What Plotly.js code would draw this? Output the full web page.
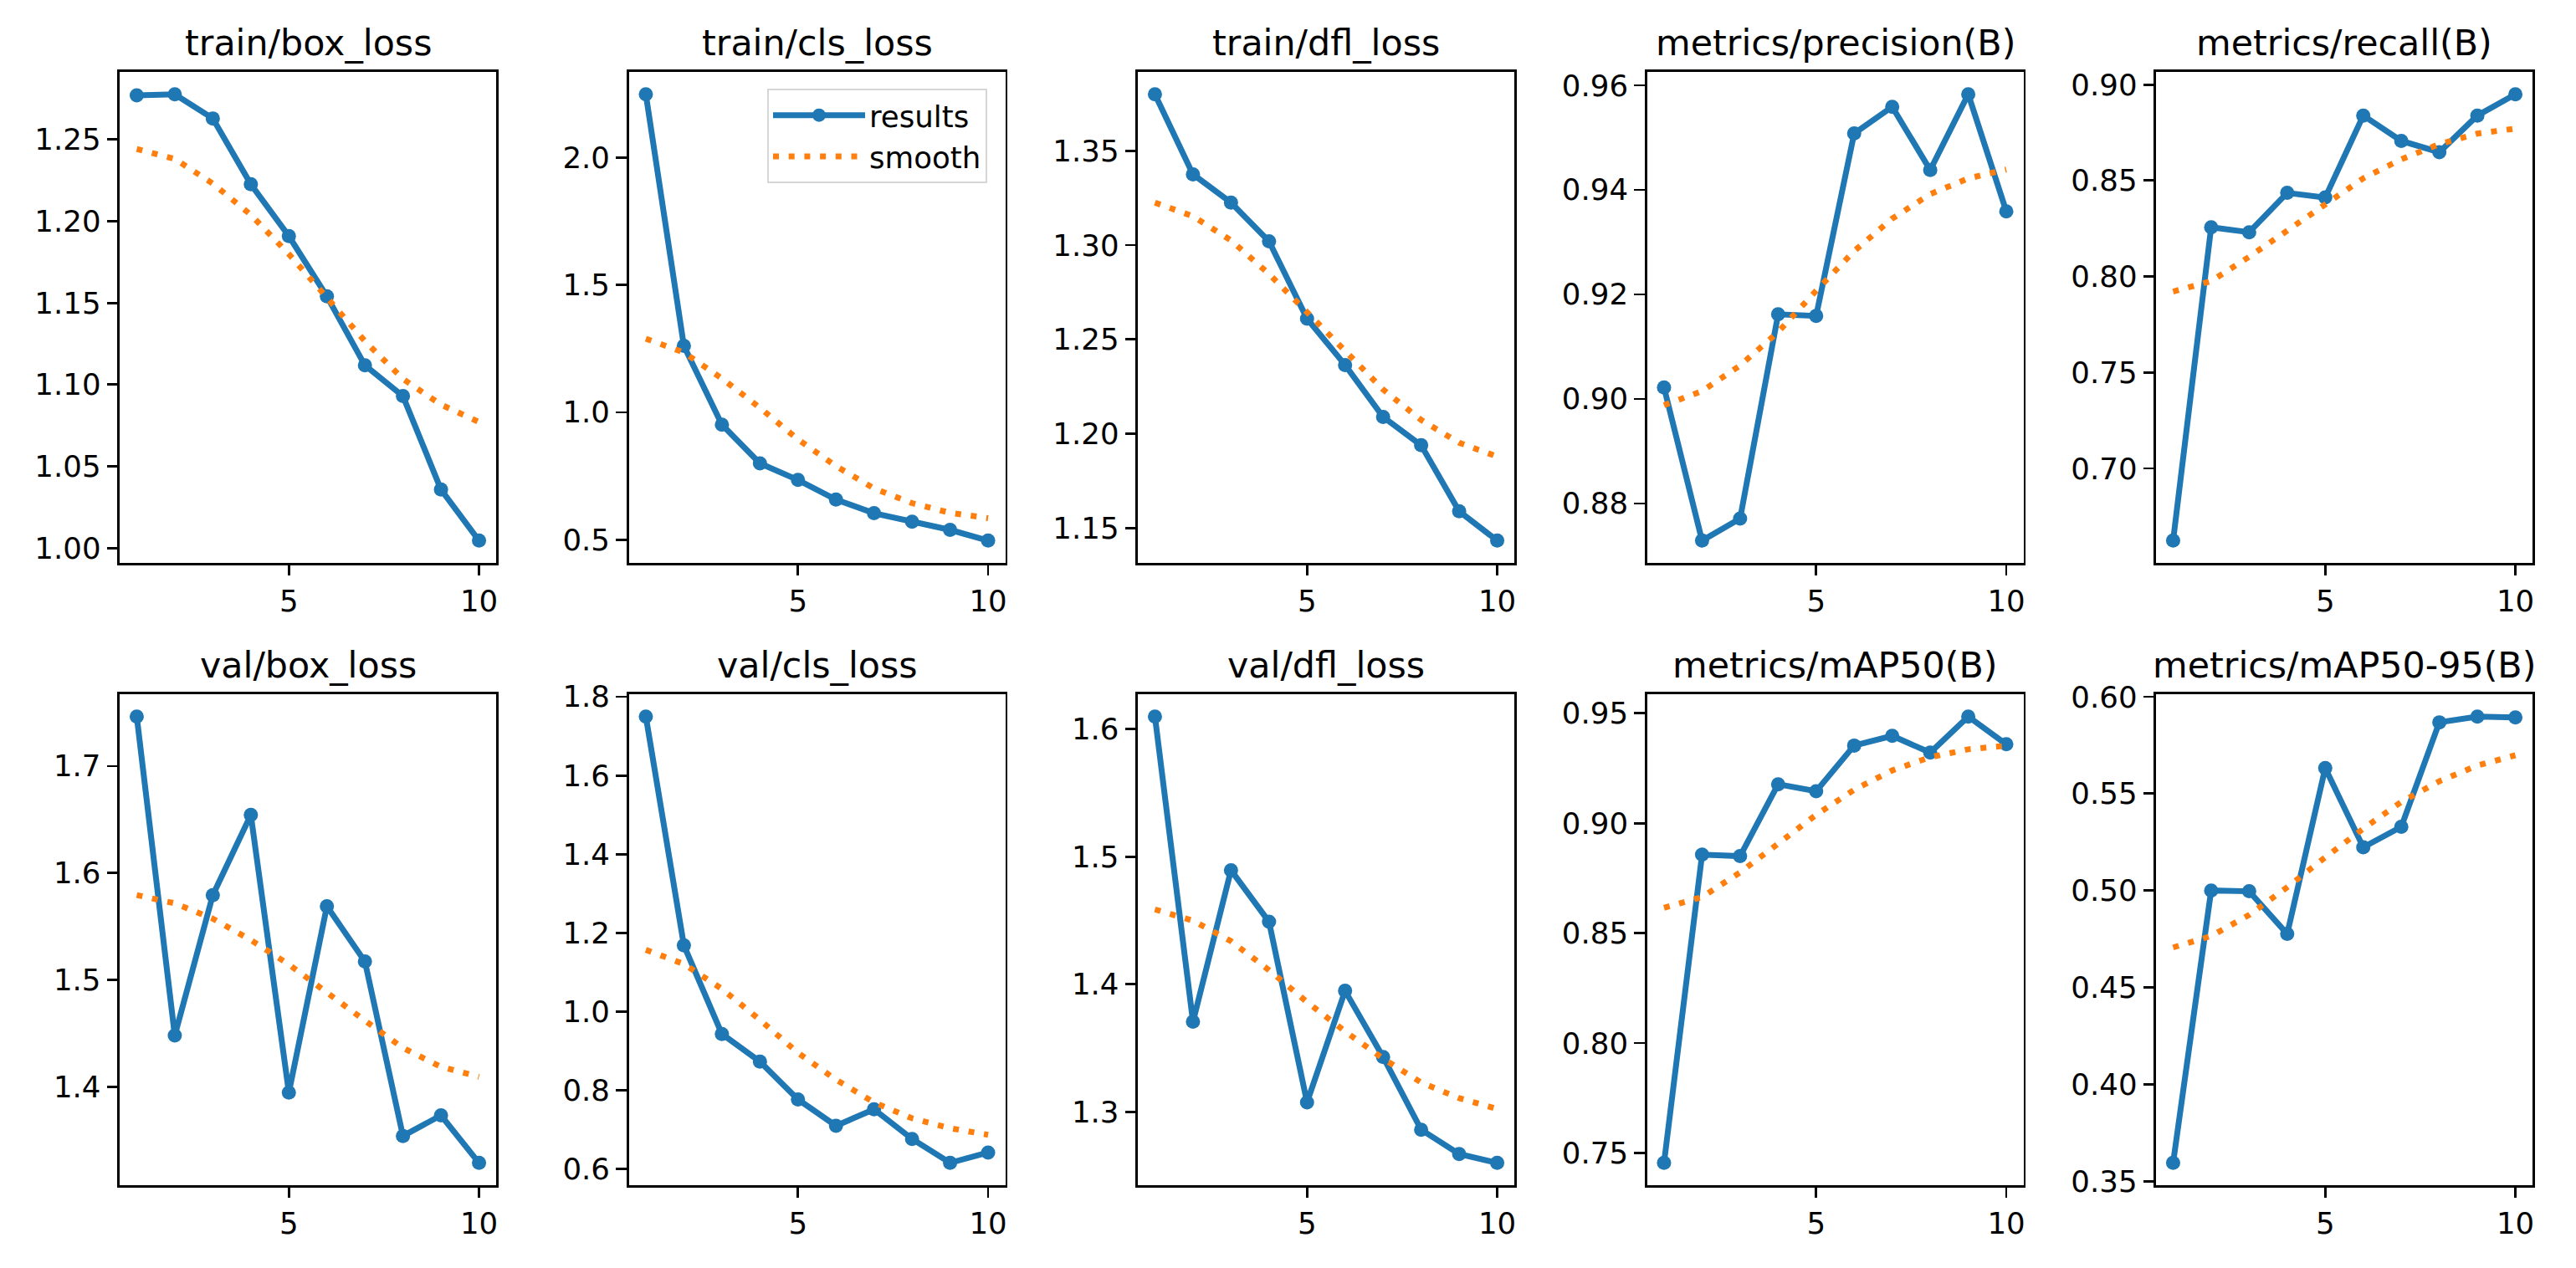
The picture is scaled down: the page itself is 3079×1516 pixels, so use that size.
<!DOCTYPE html>
<html>
<head>
<meta charset="utf-8">
<script src="https://cdn.plot.ly/plotly-3.0.1.min.js"></script>
<style>
  html, body { margin: 0; padding: 0; background: #ffffff; }
  #chart { width: 3079px; height: 1516px; }
</style>
</head>
<body>
<div id="chart"></div>
<script>
// ---------------- data ----------------
const epochs = [1, 2, 3, 4, 5, 6, 7, 8, 9, 10];

const panelTitles = [
  "train/box_loss", "train/cls_loss", "train/dfl_loss", "metrics/precision(B)", "metrics/recall(B)",
  "val/box_loss", "val/cls_loss", "val/dfl_loss", "metrics/mAP50(B)", "metrics/mAP50-95(B)"
];

const trainBoxLoss       = [1.2768, 1.2775, 1.2627, 1.2225, 1.1908, 1.1540, 1.1118, 1.0930, 1.0359, 1.0047];
const trainBoxLossSmooth = [1.2441, 1.2380, 1.2229, 1.2038, 1.1798, 1.1530, 1.1266, 1.1035, 1.0878, 1.0772];

const trainClsLoss       = [2.248, 1.261, 0.952, 0.800, 0.735, 0.658, 0.6045, 0.571, 0.539, 0.497];
const trainClsLossSmooth = [1.289, 1.235, 1.133, 1.018, 0.894, 0.789, 0.7015, 0.644, 0.606, 0.585];

const trainDflLoss       = [1.3799, 1.3375, 1.3225, 1.3020, 1.2610, 1.2365, 1.2090, 1.1940, 1.1590, 1.1435];
const trainDflLossSmooth = [1.3225, 1.3153, 1.3025, 1.2847, 1.2645, 1.2440, 1.2235, 1.2074, 1.1953, 1.1880];

const precision       = [0.9022, 0.8729, 0.8771, 0.9162, 0.9159, 0.9508, 0.9559, 0.9438, 0.9583, 0.9359];
const precisionSmooth = [0.8988, 0.9015, 0.9064, 0.9128, 0.9207, 0.9283, 0.9345, 0.9392, 0.9422, 0.9439];

const recall       = [0.6624, 0.8257, 0.8231, 0.8436, 0.8412, 0.8839, 0.8707, 0.8648, 0.8839, 0.8950];
const recallSmooth = [0.7922, 0.7976, 0.8103, 0.8239, 0.8381, 0.8512, 0.8611, 0.8690, 0.8745, 0.8771];

const valBoxLoss       = [1.7463, 1.4483, 1.5795, 1.6544, 1.3950, 1.5690, 1.5174, 1.3544, 1.3737, 1.3293];
const valBoxLossSmooth = [1.5795, 1.5718, 1.5575, 1.5375, 1.5147, 1.4876, 1.4622, 1.4367, 1.4190, 1.4097];

const valClsLoss       = [1.7496, 1.1685, 0.9433, 0.8730, 0.7770, 0.7100, 0.7520, 0.6766, 0.6158, 0.6420];
const valClsLossSmooth = [1.1570, 1.1210, 1.0577, 0.9790, 0.8955, 0.8270, 0.7696, 0.7290, 0.7040, 0.6870];

const valDflLoss       = [1.6097, 1.3706, 1.4893, 1.4489, 1.3074, 1.3948, 1.3430, 1.2860, 1.2670, 1.2600];
const valDflLossSmooth = [1.4586, 1.4498, 1.4337, 1.4110, 1.3860, 1.3630, 1.3417, 1.3230, 1.3107, 1.3023];

const mAP50       = [0.7455, 0.8857, 0.8850, 0.9177, 0.9145, 0.9353, 0.9397, 0.9321, 0.9485, 0.9359];
const mAP50Smooth = [0.8615, 0.8664, 0.8776, 0.8910, 0.9038, 0.9152, 0.9240, 0.9300, 0.9336, 0.9352];

const mAP5095       = [0.3594, 0.5000, 0.4996, 0.4776, 0.5632, 0.5223, 0.5329, 0.5868, 0.5898, 0.5893];
const mAP5095Smooth = [0.4706, 0.4765, 0.4874, 0.5017, 0.5171, 0.5319, 0.5457, 0.5564, 0.5645, 0.5698];

// tick labels
const xTickVals = [5, 10];
const xTickText = ["5", "10"];
const yTickText = [
  ["1.00", "1.05", "1.10", "1.15", "1.20", "1.25"],
  ["0.5", "1.0", "1.5", "2.0"],
  ["1.15", "1.20", "1.25", "1.30", "1.35"],
  ["0.88", "0.90", "0.92", "0.94", "0.96"],
  ["0.70", "0.75", "0.80", "0.85", "0.90"],
  ["1.4", "1.5", "1.6", "1.7"],
  ["0.6", "0.8", "1.0", "1.2", "1.4", "1.6", "1.8"],
  ["1.3", "1.4", "1.5", "1.6"],
  ["0.75", "0.80", "0.85", "0.90", "0.95"],
  ["0.35", "0.40", "0.45", "0.50", "0.55", "0.60"]
];

const seriesResults = [trainBoxLoss, trainClsLoss, trainDflLoss, precision, recall,
                       valBoxLoss, valClsLoss, valDflLoss, mAP50, mAP5095];
const seriesSmooth  = [trainBoxLossSmooth, trainClsLossSmooth, trainDflLossSmooth, precisionSmooth, recallSmooth,
                       valBoxLossSmooth, valClsLossSmooth, valDflLossSmooth, mAP50Smooth, mAP5095Smooth];

// ---------------- layout geometry ----------------
const W = 3079, H = 1516;
const colLeft = [143, 751.5, 1360, 1968.5, 2577];
const axW = 450;
const rowTop = [86, 830];
const axH = 587;

const BLUE = "#1f77b4", ORANGE = "#ff7f0e";
const FONT = "DejaVu Sans, Liberation Sans, sans-serif";
const TICK_PX = 35.6, TITLE_PX = 42.8;

function mplRange(a, b) {
  const all = a.concat(b);
  const lo = Math.min.apply(null, all), hi = Math.max.apply(null, all);
  const pad = (hi - lo) * 0.05;
  return [lo - pad, hi + pad];
}

const traces = [];
const layout = {
  width: W, height: H,
  margin: {l: 0, r: 0, t: 0, b: 0},
  paper_bgcolor: "#ffffff", plot_bgcolor: "#ffffff",
  font: {family: FONT, size: TICK_PX, color: "#000000"},
  showlegend: true,
  legend: {
    x: 1180 / W, y: 1 - 106 / H, xanchor: "right", yanchor: "top",
    bgcolor: "rgba(255,255,255,0.8)", bordercolor: "#d6d6d6", borderwidth: 2,
    font: {family: FONT, size: TICK_PX, color: "#000000"},
    itemwidth: 110, tracegroupgap: 0
  },
  annotations: []
};

for (let i = 0; i < 10; i++) {
  const r = Math.floor(i / 5), c = i % 5;
  const sfx = i === 0 ? "" : String(i + 1);
  const xa = "x" + sfx, ya = "y" + sfx;
  const left = colLeft[c], top = rowTop[r];
  const xd = [left / W, (left + axW) / W];
  const yd = [1 - (top + axH) / H, 1 - top / H];

  const yVals = yTickText[i].map(Number);

  layout["xaxis" + sfx] = {
    domain: xd, anchor: ya, range: [0.55, 10.45],
    showgrid: false, zeroline: false,
    showline: true, mirror: true, linecolor: "#000000", linewidth: 2.85,
    ticks: "outside", ticklen: 12.5, tickwidth: 2.85, tickcolor: "#000000",
    tickmode: "array", tickvals: xTickVals, ticktext: xTickText,
    tickfont: {family: FONT, size: TICK_PX, color: "#000000"},
    fixedrange: true
  };
  layout["yaxis" + sfx] = {
    domain: yd, anchor: xa, range: mplRange(seriesResults[i], seriesSmooth[i]),
    showgrid: false, zeroline: false,
    showline: true, mirror: true, linecolor: "#000000", linewidth: 2.85,
    ticks: "outside", ticklen: 12.5, tickwidth: 2.85, tickcolor: "#000000",
    tickmode: "array", tickvals: yVals, ticktext: yTickText[i],
    tickfont: {family: FONT, size: TICK_PX, color: "#000000"},
    fixedrange: true
  };

  traces.push({
    type: "scatter", mode: "lines+markers", name: "results",
    x: epochs, y: seriesResults[i], xaxis: xa, yaxis: ya,
    line: {color: BLUE, width: 7},
    marker: {color: BLUE, size: 17},
    showlegend: i === 1, legendrank: 1
  });
  traces.push({
    type: "scatter", mode: "lines", name: "smooth",
    x: epochs, y: seriesSmooth[i], xaxis: xa, yaxis: ya,
    line: {color: ORANGE, width: 7, dash: "7px,11.7px"},
    showlegend: i === 1, legendrank: 2
  });

  layout.annotations.push({
    text: panelTitles[i], showarrow: false,
    xref: "paper", yref: "paper",
    x: (left + axW / 2) / W, y: 1 - (top - 35) / H,
    xanchor: "center", yanchor: "middle",
    font: {family: FONT, size: TITLE_PX, color: "#000000"}
  });
}

Plotly.newPlot("chart", traces, layout, {displayModeBar: false, staticPlot: true});
</script>
</body>
</html>
